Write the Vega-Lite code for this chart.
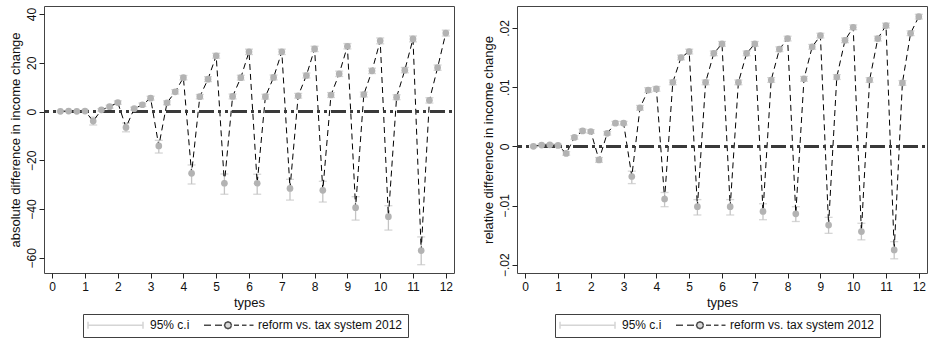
{
  "$schema": "https://vega.github.io/schema/vega-lite/v6.json",
  "padding": {"left": 8, "top": 5, "right": 1, "bottom": 2},
  "spacing": 25,
  "datasets": {
    "abs": [
      {"x": 0.25, "y": 0.1, "lo": -0.2, "hi": 0.4},
      {"x": 0.5, "y": 0.2, "lo": -0.1, "hi": 0.5},
      {"x": 0.75, "y": 0.1, "lo": -0.2, "hi": 0.4},
      {"x": 1.0, "y": 0.2, "lo": -0.2, "hi": 0.6},
      {"x": 1.25, "y": -3.9, "lo": -5.5, "hi": -2.3},
      {"x": 1.5, "y": 0.7, "lo": 0.2, "hi": 1.2},
      {"x": 1.75, "y": 2.0, "lo": 1.4, "hi": 2.6},
      {"x": 2.0, "y": 3.7, "lo": 3.0, "hi": 4.4},
      {"x": 2.25, "y": -6.5, "lo": -8.3, "hi": -4.7},
      {"x": 2.5, "y": 1.2, "lo": 0.6, "hi": 1.8},
      {"x": 2.75, "y": 2.8, "lo": 2.1, "hi": 3.5},
      {"x": 3.0, "y": 5.5, "lo": 4.7, "hi": 6.3},
      {"x": 3.25, "y": -14.1, "lo": -17.0, "hi": -11.8},
      {"x": 3.5, "y": 3.6, "lo": 2.8, "hi": 4.4},
      {"x": 3.75, "y": 8.1, "lo": 7.2, "hi": 9.0},
      {"x": 4.0, "y": 13.9, "lo": 13.0, "hi": 14.8},
      {"x": 4.25, "y": -25.3, "lo": -29.7, "hi": -21.9},
      {"x": 4.5, "y": 6.1, "lo": 5.2, "hi": 7.0},
      {"x": 4.75, "y": 13.3, "lo": 12.3, "hi": 14.3},
      {"x": 5.0, "y": 22.9, "lo": 21.9, "hi": 23.9},
      {"x": 5.25, "y": -29.4, "lo": -33.9, "hi": -25.6},
      {"x": 5.5, "y": 6.2, "lo": 5.2, "hi": 7.2},
      {"x": 5.75, "y": 13.9, "lo": 12.9, "hi": 14.9},
      {"x": 6.0, "y": 24.5, "lo": 23.4, "hi": 25.6},
      {"x": 6.25, "y": -29.4, "lo": -33.9, "hi": -25.7},
      {"x": 6.5, "y": 6.1, "lo": 5.1, "hi": 7.1},
      {"x": 6.75, "y": 14.0, "lo": 13.0, "hi": 15.0},
      {"x": 7.0, "y": 24.5, "lo": 23.4, "hi": 25.6},
      {"x": 7.25, "y": -31.5, "lo": -36.3, "hi": -27.8},
      {"x": 7.5, "y": 6.5, "lo": 5.5, "hi": 7.5},
      {"x": 7.75, "y": 14.8, "lo": 13.8, "hi": 15.8},
      {"x": 8.0, "y": 25.7, "lo": 24.6, "hi": 26.8},
      {"x": 8.25, "y": -32.3, "lo": -37.1, "hi": -28.6},
      {"x": 8.5, "y": 6.8, "lo": 5.8, "hi": 7.8},
      {"x": 8.75, "y": 15.5, "lo": 14.4, "hi": 16.6},
      {"x": 9.0, "y": 26.8, "lo": 25.7, "hi": 27.9},
      {"x": 9.25, "y": -39.4, "lo": -44.5, "hi": -34.9},
      {"x": 9.5, "y": 7.0, "lo": 6.0, "hi": 8.0},
      {"x": 9.75, "y": 16.7, "lo": 15.6, "hi": 17.8},
      {"x": 10.0, "y": 29.0, "lo": 27.8, "hi": 30.2},
      {"x": 10.25, "y": -43.1, "lo": -48.6, "hi": -38.6},
      {"x": 10.5, "y": 5.9, "lo": 4.9, "hi": 6.9},
      {"x": 10.75, "y": 17.0, "lo": 15.9, "hi": 18.1},
      {"x": 11.0, "y": 29.8, "lo": 28.6, "hi": 31.0},
      {"x": 11.25, "y": -57.0, "lo": -62.8, "hi": -51.4},
      {"x": 11.5, "y": 4.6, "lo": 3.5, "hi": 5.7},
      {"x": 11.75, "y": 18.0, "lo": 16.9, "hi": 19.1},
      {"x": 12.0, "y": 32.2, "lo": 31.0, "hi": 33.4}
    ],
    "rel": [
      {"x": 0.25, "y": 0.0, "lo": -0.0002, "hi": 0.0002},
      {"x": 0.5, "y": 0.0002, "lo": 0.0, "hi": 0.0004},
      {"x": 0.75, "y": 0.00025, "lo": 0.00005, "hi": 0.00045},
      {"x": 1.0, "y": 0.00015, "lo": -0.00005, "hi": 0.00035},
      {"x": 1.25, "y": -0.0012, "lo": -0.0015, "hi": -0.0009},
      {"x": 1.5, "y": 0.0015, "lo": 0.0012, "hi": 0.0018},
      {"x": 1.75, "y": 0.0026, "lo": 0.0023, "hi": 0.0029},
      {"x": 2.0, "y": 0.0025, "lo": 0.0022, "hi": 0.0028},
      {"x": 2.25, "y": -0.0023, "lo": -0.0027, "hi": -0.0019},
      {"x": 2.5, "y": 0.0022, "lo": 0.0019, "hi": 0.0025},
      {"x": 2.75, "y": 0.0039, "lo": 0.0036, "hi": 0.0042},
      {"x": 3.0, "y": 0.0039, "lo": 0.0036, "hi": 0.0042},
      {"x": 3.25, "y": -0.0051, "lo": -0.0063, "hi": -0.0042},
      {"x": 3.5, "y": 0.0065, "lo": 0.0061, "hi": 0.0069},
      {"x": 3.75, "y": 0.0095, "lo": 0.0091, "hi": 0.0099},
      {"x": 4.0, "y": 0.0097, "lo": 0.0093, "hi": 0.0101},
      {"x": 4.25, "y": -0.0089, "lo": -0.0102, "hi": -0.0078},
      {"x": 4.5, "y": 0.0108, "lo": 0.0104, "hi": 0.0112},
      {"x": 4.75, "y": 0.015, "lo": 0.0146, "hi": 0.0154},
      {"x": 5.0, "y": 0.016, "lo": 0.0156, "hi": 0.0164},
      {"x": 5.25, "y": -0.0102, "lo": -0.0116, "hi": -0.009},
      {"x": 5.5, "y": 0.0108, "lo": 0.0104, "hi": 0.0112},
      {"x": 5.75, "y": 0.0157, "lo": 0.0153, "hi": 0.0161},
      {"x": 6.0, "y": 0.0173, "lo": 0.0169, "hi": 0.0177},
      {"x": 6.25, "y": -0.0102, "lo": -0.0116, "hi": -0.009},
      {"x": 6.5, "y": 0.0108, "lo": 0.0104, "hi": 0.0112},
      {"x": 6.75, "y": 0.0157, "lo": 0.0153, "hi": 0.0161},
      {"x": 7.0, "y": 0.0173, "lo": 0.0169, "hi": 0.0177},
      {"x": 7.25, "y": -0.011, "lo": -0.0124, "hi": -0.0097},
      {"x": 7.5, "y": 0.0112, "lo": 0.0108, "hi": 0.0116},
      {"x": 7.75, "y": 0.0164, "lo": 0.016, "hi": 0.0168},
      {"x": 8.0, "y": 0.0182, "lo": 0.0178, "hi": 0.0186},
      {"x": 8.25, "y": -0.0114, "lo": -0.0127, "hi": -0.0102},
      {"x": 8.5, "y": 0.0114, "lo": 0.011, "hi": 0.0118},
      {"x": 8.75, "y": 0.0168, "lo": 0.0164, "hi": 0.0172},
      {"x": 9.0, "y": 0.0187, "lo": 0.0183, "hi": 0.0191},
      {"x": 9.25, "y": -0.0133, "lo": -0.0147, "hi": -0.012},
      {"x": 9.5, "y": 0.0117, "lo": 0.0113, "hi": 0.0121},
      {"x": 9.75, "y": 0.0179, "lo": 0.0175, "hi": 0.0183},
      {"x": 10.0, "y": 0.0201, "lo": 0.0197, "hi": 0.0205},
      {"x": 10.25, "y": -0.0144, "lo": -0.0158, "hi": -0.013},
      {"x": 10.5, "y": 0.0112, "lo": 0.0108, "hi": 0.0116},
      {"x": 10.75, "y": 0.0182, "lo": 0.0178, "hi": 0.0186},
      {"x": 11.0, "y": 0.0204, "lo": 0.02, "hi": 0.0208},
      {"x": 11.25, "y": -0.0175, "lo": -0.019, "hi": -0.0161},
      {"x": 11.5, "y": 0.0107, "lo": 0.0103, "hi": 0.0111},
      {"x": 11.75, "y": 0.0191, "lo": 0.0187, "hi": 0.0195},
      {"x": 12.0, "y": 0.0219, "lo": 0.0215, "hi": 0.0223}
    ],
    "leg": [
      {"s": "95% c.i"},
      {"s": "reform vs. tax system 2012"}
    ]
  },
  "hconcat": [
    {
      "width": 410,
      "height": 267,
      "data": {"name": "abs"},
      "layer": [
        {
          "mark": {"type": "rule", "color": "#c4c4c4", "strokeWidth": 1.3},
          "encoding": {
            "x": {"field": "x", "type": "quantitative", "title": "types", "scale": {"domain": [-0.25, 12.25], "nice": false, "zero": false}, "axis": {"values": [0,1,2,3,4,5,6,7,8,9,10,11,12], "labelOverlap": false}},
            "y": {"field": "lo", "type": "quantitative", "title": "absolute difference in income change", "scale": {"domain": [-66.2, 43.3], "nice": false, "zero": false}, "axis": {"values": [-60,-40,-20,0,20,40]}},
            "y2": {"field": "hi"}
          }
        },
        {
          "mark": {"type": "tick", "orient": "horizontal", "color": "#c4c4c4", "size": 8, "thickness": 1.3},
          "encoding": {
            "x": {"field": "x", "type": "quantitative", "title": "types", "axis": {"values": [0,1,2,3,4,5,6,7,8,9,10,11,12], "labelOverlap": false}},
            "y": {"field": "lo", "type": "quantitative", "title": "absolute difference in income change", "axis": {"values": [-60,-40,-20,0,20,40]}}
          }
        },
        {
          "mark": {"type": "tick", "orient": "horizontal", "color": "#c4c4c4", "size": 8, "thickness": 1.3},
          "encoding": {
            "x": {"field": "x", "type": "quantitative", "title": "types", "axis": {"values": [0,1,2,3,4,5,6,7,8,9,10,11,12], "labelOverlap": false}},
            "y": {"field": "hi", "type": "quantitative", "title": "absolute difference in income change", "axis": {"values": [-60,-40,-20,0,20,40]}}
          }
        },
        {
          "mark": {"type": "line", "color": "black", "strokeWidth": 1, "strokeDash": [6, 4]},
          "encoding": {
            "x": {"field": "x", "type": "quantitative", "title": "types", "axis": {"values": [0,1,2,3,4,5,6,7,8,9,10,11,12], "labelOverlap": false}},
            "y": {"field": "y", "type": "quantitative", "title": "absolute difference in income change", "axis": {"values": [-60,-40,-20,0,20,40]}}
          }
        },
        {
          "mark": {"type": "rule", "color": "#3a3a3a", "strokeWidth": 2, "strokeDash": [15, 4, 3, 4, 3, 4], "strokeDashOffset": 24},
          "encoding": {"y": {"datum": 0}}
        },
        {
          "mark": {"type": "point", "filled": true, "color": "#b3b3b3", "size": 45, "opacity": 1},
          "encoding": {
            "x": {"field": "x", "type": "quantitative", "title": "types", "axis": {"values": [0,1,2,3,4,5,6,7,8,9,10,11,12], "labelOverlap": false}},
            "y": {"field": "y", "type": "quantitative", "title": "absolute difference in income change", "axis": {"values": [-60,-40,-20,0,20,40]}}
          }
        },
        {
          "data": {"name": "leg"},
          "transform": [{"filter": "false"}],
          "mark": {"type": "point"},
          "encoding": {
            "shape": {"field": "s", "type": "nominal", "scale": {"domain": ["95% c.i", "reform vs. tax system 2012"], "range": ["M-1.2,0H9.8M-1.2,-0.7V0.7M9.8,-0.7V0.7", "M0.4,0H1.8M2.6,0H4.0M6.4,0H7.4M8.0,0H8.9M9.5,0H10.3M5.9,0L5.695,0.495L5.2,0.7L4.705,0.495L4.5,0L4.705,-0.495L5.2,-0.7L5.695,-0.495Z"]},
              "legend": {"orient": "none", "legendX": 39, "legendY": 308, "direction": "horizontal", "title": null, "strokeColor": "#404040", "padding": 5, "symbolOffset": 0, "labelOffset": 50, "columnPadding": 6, "symbolSize": 100, "symbolStrokeWidth": 1.5, "labelFontSize": 12}},
            "stroke": {"field": "s", "type": "nominal", "scale": {"domain": ["95% c.i", "reform vs. tax system 2012"], "range": ["#c4c4c4", "black"]},
              "legend": {"orient": "none", "legendX": 39, "legendY": 308, "direction": "horizontal", "title": null, "strokeColor": "#404040", "padding": 5, "symbolOffset": 0, "labelOffset": 50, "columnPadding": 6, "symbolSize": 100, "symbolStrokeWidth": 1.5, "labelFontSize": 12}},
            "fill": {"field": "s", "type": "nominal", "scale": {"domain": ["95% c.i", "reform vs. tax system 2012"], "range": ["transparent", "#b3b3b3"]},
              "legend": {"orient": "none", "legendX": 39, "legendY": 308, "direction": "horizontal", "title": null, "strokeColor": "#404040", "padding": 5, "symbolOffset": 0, "labelOffset": 50, "columnPadding": 6, "symbolSize": 100, "symbolStrokeWidth": 1.5, "labelFontSize": 12}},
            "strokeDash": {"field": "s", "type": "nominal", "scale": {"domain": ["95% c.i", "reform vs. tax system 2012"], "range": [[1, 0], [27.4, 300]]},
              "legend": {"orient": "none", "legendX": 39, "legendY": 308, "direction": "horizontal", "title": null, "strokeColor": "#404040", "padding": 5, "symbolOffset": 0, "labelOffset": 50, "columnPadding": 6, "symbolSize": 100, "symbolStrokeWidth": 1.5, "labelFontSize": 12}}
          }
        }
      ]
    },
    {
      "width": 410,
      "height": 267,
      "data": {"name": "rel"},
      "layer": [
        {
          "mark": {"type": "rule", "color": "#c4c4c4", "strokeWidth": 1.3},
          "encoding": {
            "x": {"field": "x", "type": "quantitative", "title": "types", "scale": {"domain": [-0.25, 12.25], "nice": false, "zero": false}, "axis": {"values": [0,1,2,3,4,5,6,7,8,9,10,11,12], "labelOverlap": false}},
            "y": {"field": "lo", "type": "quantitative", "title": "relative difference in income change", "scale": {"domain": [-0.0214, 0.0237], "nice": false, "zero": false}, "axis": {"values": [-0.02,-0.01,0,0.01,0.02], "labelExpr": "replace(format(datum.value, '.2~f'), '0.', '.')"}},
            "y2": {"field": "hi"}
          }
        },
        {
          "mark": {"type": "tick", "orient": "horizontal", "color": "#c4c4c4", "size": 8, "thickness": 1.3},
          "encoding": {
            "x": {"field": "x", "type": "quantitative", "title": "types", "axis": {"values": [0,1,2,3,4,5,6,7,8,9,10,11,12], "labelOverlap": false}},
            "y": {"field": "lo", "type": "quantitative", "title": "relative difference in income change", "axis": {"values": [-0.02,-0.01,0,0.01,0.02], "labelExpr": "replace(format(datum.value, '.2~f'), '0.', '.')"}}
          }
        },
        {
          "mark": {"type": "tick", "orient": "horizontal", "color": "#c4c4c4", "size": 8, "thickness": 1.3},
          "encoding": {
            "x": {"field": "x", "type": "quantitative", "title": "types", "axis": {"values": [0,1,2,3,4,5,6,7,8,9,10,11,12], "labelOverlap": false}},
            "y": {"field": "hi", "type": "quantitative", "title": "relative difference in income change", "axis": {"values": [-0.02,-0.01,0,0.01,0.02], "labelExpr": "replace(format(datum.value, '.2~f'), '0.', '.')"}}
          }
        },
        {
          "mark": {"type": "line", "color": "black", "strokeWidth": 1, "strokeDash": [6, 4]},
          "encoding": {
            "x": {"field": "x", "type": "quantitative", "title": "types", "axis": {"values": [0,1,2,3,4,5,6,7,8,9,10,11,12], "labelOverlap": false}},
            "y": {"field": "y", "type": "quantitative", "title": "relative difference in income change", "axis": {"values": [-0.02,-0.01,0,0.01,0.02], "labelExpr": "replace(format(datum.value, '.2~f'), '0.', '.')"}}
          }
        },
        {
          "mark": {"type": "rule", "color": "#3a3a3a", "strokeWidth": 2, "strokeDash": [15, 4, 3, 4, 3, 4], "strokeDashOffset": 24},
          "encoding": {"y": {"datum": 0}}
        },
        {
          "mark": {"type": "point", "filled": true, "color": "#b3b3b3", "size": 45, "opacity": 1},
          "encoding": {
            "x": {"field": "x", "type": "quantitative", "title": "types", "axis": {"values": [0,1,2,3,4,5,6,7,8,9,10,11,12], "labelOverlap": false}},
            "y": {"field": "y", "type": "quantitative", "title": "relative difference in income change", "axis": {"values": [-0.02,-0.01,0,0.01,0.02], "labelExpr": "replace(format(datum.value, '.2~f'), '0.', '.')"}}
          }
        },
        {
          "data": {"name": "leg"},
          "transform": [{"filter": "false"}],
          "mark": {"type": "point"},
          "encoding": {
            "shape": {"field": "s", "type": "nominal", "scale": {"domain": ["95% c.i", "reform vs. tax system 2012"], "range": ["M-1.2,0H9.8M-1.2,-0.7V0.7M9.8,-0.7V0.7", "M0.4,0H1.8M2.6,0H4.0M6.4,0H7.4M8.0,0H8.9M9.5,0H10.3M5.9,0L5.695,0.495L5.2,0.7L4.705,0.495L4.5,0L4.705,-0.495L5.2,-0.7L5.695,-0.495Z"]},
              "legend": {"orient": "none", "legendX": 38, "legendY": 308, "direction": "horizontal", "title": null, "strokeColor": "#404040", "padding": 5, "symbolOffset": 0, "labelOffset": 50, "columnPadding": 6, "symbolSize": 100, "symbolStrokeWidth": 1.5, "labelFontSize": 12}},
            "stroke": {"field": "s", "type": "nominal", "scale": {"domain": ["95% c.i", "reform vs. tax system 2012"], "range": ["#c4c4c4", "black"]},
              "legend": {"orient": "none", "legendX": 38, "legendY": 308, "direction": "horizontal", "title": null, "strokeColor": "#404040", "padding": 5, "symbolOffset": 0, "labelOffset": 50, "columnPadding": 6, "symbolSize": 100, "symbolStrokeWidth": 1.5, "labelFontSize": 12}},
            "fill": {"field": "s", "type": "nominal", "scale": {"domain": ["95% c.i", "reform vs. tax system 2012"], "range": ["transparent", "#b3b3b3"]},
              "legend": {"orient": "none", "legendX": 38, "legendY": 308, "direction": "horizontal", "title": null, "strokeColor": "#404040", "padding": 5, "symbolOffset": 0, "labelOffset": 50, "columnPadding": 6, "symbolSize": 100, "symbolStrokeWidth": 1.5, "labelFontSize": 12}},
            "strokeDash": {"field": "s", "type": "nominal", "scale": {"domain": ["95% c.i", "reform vs. tax system 2012"], "range": [[1, 0], [27.4, 300]]},
              "legend": {"orient": "none", "legendX": 38, "legendY": 308, "direction": "horizontal", "title": null, "strokeColor": "#404040", "padding": 5, "symbolOffset": 0, "labelOffset": 50, "columnPadding": 6, "symbolSize": 100, "symbolStrokeWidth": 1.5, "labelFontSize": 12}}
          }
        }
      ]
    }
  ],
  "resolve": {
    "scale": {"shape": "independent", "stroke": "independent", "fill": "independent", "strokeDash": "independent"},
    "legend": {"shape": "independent", "stroke": "independent", "fill": "independent", "strokeDash": "independent"}
  },
  "config": {
    "font": "Liberation Sans",
    "view": {"stroke": "#444444", "strokeWidth": 1},
    "axis": {
      "grid": false,
      "domain": false,
      "tickColor": "#222222",
      "tickSize": 5,
      "labelFont": "Liberation Sans",
      "labelFontSize": 12,
      "labelColor": "#111111",
      "titleFont": "Liberation Sans",
      "titleFontSize": 13,
      "titleFontWeight": "normal",
      "titleColor": "#111111",
      "labelPadding": 3,
      "titlePadding": 4
    },
    "axisY": {"labelAngle": -90, "labelPadding": 1, "titlePadding": 3},
    "legend": {"labelFont": "Liberation Sans", "labelFontSize": 12, "labelColor": "#111111", "symbolStrokeWidth": 1.5}
  }
}
